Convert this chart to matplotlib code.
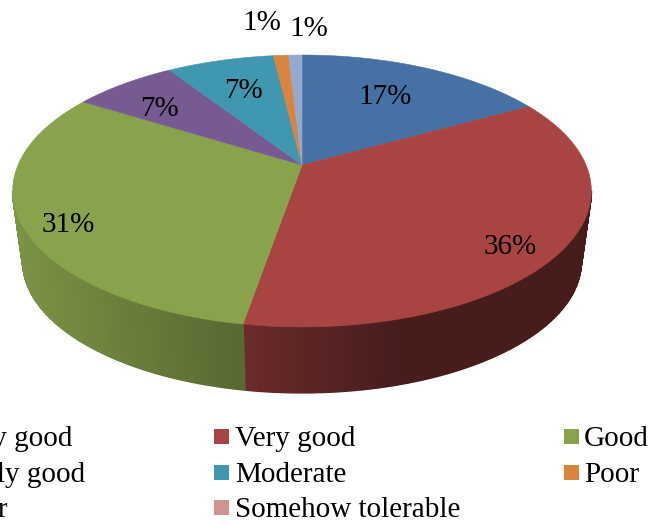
import numpy as np
import matplotlib
matplotlib.use('Agg')
import matplotlib.pyplot as plt
from matplotlib.patches import Polygon, Rectangle

categories = ['Very very good', 'Very good', 'Good', 'Fairly good', 'Moderate', 'Poor', 'Very poor', 'Somehow tolerable']
values = [16.9, 35.8, 31.2, 7.0, 7.2, 1.0, 0.9, 0.0]
pct_labels = ['17%', '36%', '31%', '7%', '7%', '1%', '1%', '']
colors = ['#4571a5', '#a84442', '#89a34d', '#775a92', '#4097b0', '#db843d', '#93a9cf', '#d19392']

label_pos = [(385, 97), (510, 247), (68, 225), (160, 109), (243, 91), (262, 23), (309, 29)]

plt.rcParams['font.family'] = ['Liberation Serif', 'DejaVu Serif']

# perspective of the pie, all in pixels of the picture
cx, cy = 302, 165
rx, ry = 284, 131
persp = 0.191
depth = 71.5
bottom_scale = 0.965

# how dark the rim gets from left to right
shade_x = [12, 243, 400, 592]
shade_f = [0.90, 0.64, 0.42, 0.42]


def project(a, bottom=False):
    # a = clockwise angle from the top of the pie, radians; radius 1 on the rim
    u = np.sin(a)
    v = np.cos(a)
    w = 1 + persp * v
    if bottom:
        return cx + bottom_scale * rx * u / w, cy + depth - bottom_scale * ry * v / w
    return cx + rx * u / w, cy - ry * v / w


def darker(col, f):
    rgb = np.array(matplotlib.colors.to_rgb(col))
    return tuple(rgb * f)


fig = plt.figure(figsize=(6.51, 5.25), dpi=100)
ax = fig.add_axes([0, 0, 1, 1])
ax.set_xlim(0, 651)
ax.set_ylim(525, 0)
ax.axis('off')

edges = 2 * np.pi * np.cumsum([0] + values) / sum(values)

# rim, in strips so the shading looks smooth
limit = np.arccos(-persp)
for i, col in enumerate(colors):
    if values[i] == 0:
        continue
    a0 = max(edges[i], limit)
    a1 = min(edges[i + 1], 2 * np.pi - limit)
    if a1 <= a0:
        continue
    n = max(int((a1 - a0) / 0.012), 1)
    steps = np.linspace(a0, a1, n + 1)
    for s0, s1 in zip(steps[:-1], steps[1:]):
        x0, y0 = project(s0)
        x1, y1 = project(s1)
        x2, y2 = project(s1, True)
        x3, y3 = project(s0, True)
        c = darker(col, np.interp((x0 + x1) / 2, shade_x, shade_f))
        ax.add_patch(Polygon([(x0, y0), (x1, y1), (x2, y2), (x3, y3)], closed=True, fc=c, ec=c, lw=1.2, joinstyle='bevel'))

# top face
for i, col in enumerate(colors):
    if values[i] == 0:
        continue
    steps = np.linspace(edges[i], edges[i + 1], 200)
    xs, ys = project(steps)
    pts = [(cx, cy)] + list(zip(xs, ys))
    ax.add_patch(Polygon(pts, closed=True, fc=col, ec=col, lw=0.4))

for (x, y), t in zip(label_pos, pct_labels):
    ax.text(x, y, t, fontsize=21, ha='center', va='center', color='black')

# legend, the first column runs off the left side of the picture as in the source
col_text_end = [72, 85, 7]
legend_y = [436, 472, 507]
for i in range(3):
    ax.text(col_text_end[i], legend_y[i], categories[i * 3], fontsize=21, ha='right', va='center_baseline')
for i, idx in enumerate([1, 4, 7]):
    ax.add_patch(Rectangle((214, legend_y[i] - 7.5), 15, 15, fc=colors[idx], ec='none'))
    ax.text(235, legend_y[i], categories[idx], fontsize=21, ha='left', va='center_baseline')
for i, idx in enumerate([2, 5]):
    ax.add_patch(Rectangle((564, legend_y[i] - 7.5), 15, 15, fc=colors[idx], ec='none'))
    ax.text(584, legend_y[i], categories[idx], fontsize=21, ha='left', va='center_baseline')

fig.savefig('out.png', dpi=100)
